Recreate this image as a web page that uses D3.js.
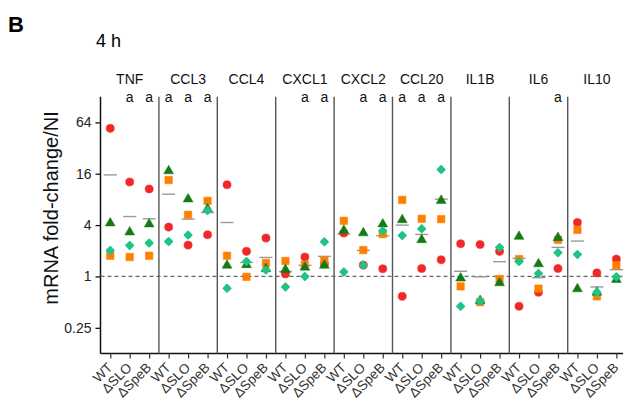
<!DOCTYPE html>
<html><head><meta charset="utf-8">
<script src="https://cdn.jsdelivr.net/npm/d3@7"></script>
<style>body{margin:0;background:#fff}svg{display:block;font-family:"Liberation Sans",Arial,sans-serif}</style>
</head><body><svg id="c" width="623" height="413"></svg>
<script>
const genes = ["TNF","CCL3","CCL4","CXCL1","CXCL2","CCL20","IL1B","IL6","IL10"];
const strains = ["WT","ΔSLO","ΔSpeB"];
const yTicks = [0.25, 1, 4, 16, 64];
const yTickLabels = ["0.25","1","4","16","64"];
// values ordered gene by gene, WT / ΔSLO / ΔSpeB
const redCircle = [54.5,12.8,10.6, 3.79,2.33,3.08, 11.9,1.97,2.82, 1.07,1.69,1.40, 3.23,1.36,1.23, 0.585,1.24,1.57, 2.42,2.37,1.97, 0.447,0.652,1.24, 4.29,1.10,1.60];
const orangeSquare = [1.75,1.69,1.75, 13.5,5.28,7.69, 1.75,0.99,1.44, 1.52,1.37,1.53, 4.49,2.04,3.14, 7.9,4.74,4.70, 0.766,0.50,0.935, 1.60,0.72,2.69, 3.52,0.585,1.35];
const greenTriangle = [4.22,3.31,4.11, 17.25,8.06,6.2, 1.35,1.37,1.23, 1.20,1.28,1.35, 3.46,3.23,4.11, 4.61,2.69,7.76, 0.955,0.52,0.84, 2.94,1.40,2.84, 0.714,0.65,0.918];
const tealDiamond = [2.02,2.31,2.46, 2.57,3.06,5.93, 0.726,1.50,1.19, 0.754,1.0,2.55, 1.13,1.36,3.43, 3.02,3.62,17.9, 0.447,0.512,2.19, 1.50,1.087,1.90, 1.81,0.652,0.99];
const meanValues = [15.5,5.04,4.74, 9.21,4.70,5.62, 4.29,1.46,1.67, 1.14,1.35,1.72, 3.14,2.02,3.0, 4.0,3.11,8.06, 1.15,0.99,1.49, 1.63,0.968,2.19, 2.60,0.754,1.20];
const sigLetters = ["","a","a", "a","a","a", "","","", "","a","a", "","a","a", "a","a","a", "","","", "","","a", "","",""];

const svg = d3.select("#c");
const leftX = 100.5, panelW = 58.4, topY = 96.7, bottomY = 353.5;
const xPanel = d3.scaleBand().domain(genes).range([leftX, leftX + panelW*genes.length]).padding(0);
const xIn = d3.scalePoint().domain(strains).range([0, panelW]).padding(0.5);
const y = d3.scaleLog().base(2).domain([0.125, 128]).range([bottomY, topY]);
const xPos = i => xPanel(genes[Math.floor(i/3)]) + xIn(strains[i%3]);

// title texts
svg.append("text").attr("x", 8).attr("y", 32).attr("font-size", 22).attr("font-weight", "bold").text("B");
svg.append("text").attr("x", 96).attr("y", 46.5).attr("font-size", 18).text("4 h");

// y axis
const yAxis = d3.axisLeft(y).tickValues(yTicks).tickFormat((d,i)=>yTickLabels[i]).tickSize(5).tickPadding(4);
const gy = svg.append("g").attr("transform", `translate(${leftX},0)`).call(yAxis);
gy.select(".domain").attr("d", `M0,${topY}V${bottomY}`).attr("stroke","#111").attr("stroke-width",1.5);
gy.selectAll(".tick line").attr("stroke","#111").attr("stroke-width",1.3);
gy.selectAll(".tick text").attr("font-size",14).attr("fill","#222").attr("font-family","Liberation Sans, Arial, sans-serif");

svg.append("text").attr("transform","translate(58,208) rotate(-90)").attr("text-anchor","middle")
  .attr("font-size",20).attr("fill","#111").text("mRNA fold-change/NI");

// x axis
const allIdx = d3.range(genes.length*3);
const xs = d3.scaleOrdinal().domain(allIdx).range(allIdx.map(xPos));
const xAxis = d3.axisBottom(xs).tickValues(allIdx).tickSize(5).tickFormat(()=> "");
const gx = svg.append("g").attr("transform", `translate(0,${bottomY})`).call(xAxis);
gx.select(".domain").attr("d", `M${leftX},0H623`).attr("stroke","#111").attr("stroke-width",1.5);
gx.selectAll(".tick line").attr("stroke","#333").attr("stroke-width",1.2);
svg.append("g").selectAll("text").data(allIdx).join("text")
  .attr("transform", i => `translate(${xPos(i)+3},${bottomY+15}) rotate(-45)`)
  .attr("text-anchor","end").attr("font-size",13.5).attr("fill","#333")
  .text(i => strains[i%3]);

// panel separators
svg.append("g").selectAll("line").data(genes.slice(1)).join("line")
  .attr("x1", g=>xPanel(g)).attr("x2", g=>xPanel(g)).attr("y1", topY).attr("y2", bottomY)
  .attr("stroke","#555").attr("stroke-width",1.4);

// panel titles
svg.append("g").selectAll("text").data(genes).join("text")
  .attr("x", g=>xPanel(g)+panelW/2).attr("y", 84).attr("text-anchor","middle")
  .attr("font-size",14).attr("fill","#111").text(g=>g);

// significance letters
svg.append("g").selectAll("text").data(allIdx.filter(i=>sigLetters[i])).join("text")
  .attr("x", i=>xPos(i)).attr("y", 102).attr("text-anchor","middle")
  .attr("font-size",14).attr("fill","#111").text(i=>sigLetters[i]);

// dashed reference line at 1
svg.append("line").attr("x1", leftX).attr("x2", 623).attr("y1", y(1)).attr("y2", y(1))
  .attr("stroke","#666").attr("stroke-width",1.3).attr("stroke-dasharray","4,3");

// mean lines
svg.append("g").selectAll("line").data(allIdx).join("line")
  .attr("x1", i=>xPos(i)-6.5).attr("x2", i=>xPos(i)+6.5)
  .attr("y1", i=>y(meanValues[i])).attr("y2", i=>y(meanValues[i]))
  .attr("stroke","#999").attr("stroke-width",1.4);

// markers
const series = [
  {vals: redCircle, sym: d3.symbolCircle, size: 52, color: "#f02828", rot: 0, sw: 0.5},
  {vals: orangeSquare, sym: d3.symbolSquare, size: 56, color: "#ff7f00", rot: 0, sw: 0.5},
  {vals: greenTriangle, sym: d3.symbolTriangle, size: 42, color: "#157a15", rot: 0, sw: 0.5},
  {vals: tealDiamond, sym: d3.symbolSquare, size: 26, color: "#1fc485", rot: 45, sw: 1.8}
];
series.forEach(s => {
  svg.append("g").selectAll("path").data(allIdx).join("path")
    .attr("transform", i => `translate(${xPos(i)},${y(s.vals[i])}) rotate(${s.rot})`)
    .attr("d", d3.symbol().type(s.sym).size(s.size)())
    .attr("fill", s.color).attr("stroke", s.color).attr("stroke-width", s.sw)
    .attr("stroke-linejoin","round");
});
</script></body></html>
